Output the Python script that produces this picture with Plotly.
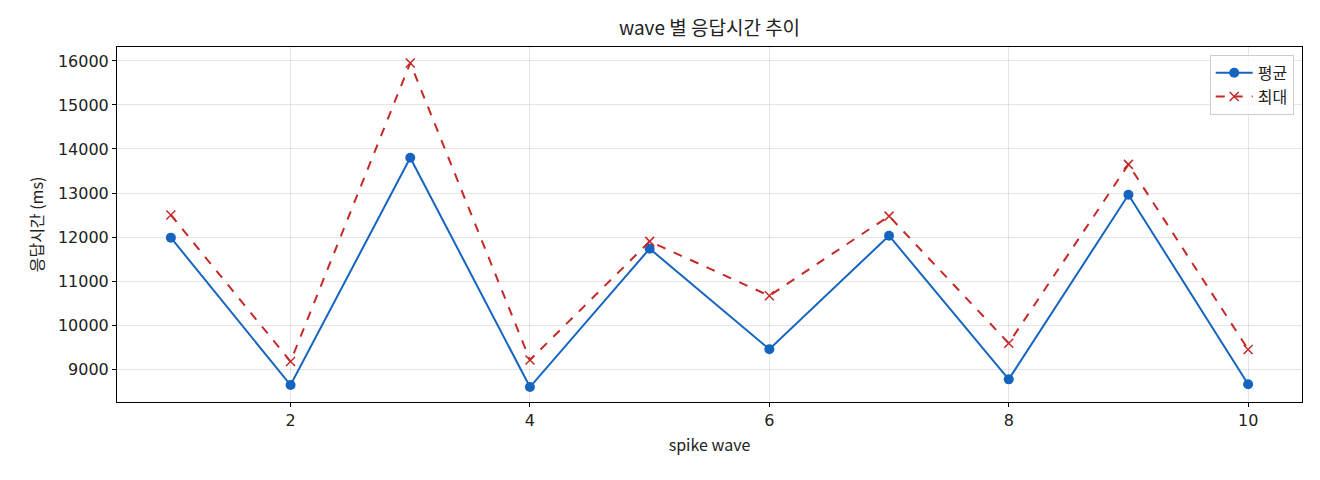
import plotly.graph_objects as go

waves = [1, 2, 3, 4, 5, 6, 7, 8, 9, 10]
avg_ms = [11985, 8635, 13800, 8590, 11735, 9450, 12030, 8765, 12960, 8655]
max_ms = [12500, 9170, 15955, 9205, 11900, 10665, 12475, 9585, 13650, 9445]

y_ticks = [9000, 10000, 11000, 12000, 13000, 14000, 15000, 16000]
x_ticks = [2, 4, 6, 8, 10]

kr_font = "Noto Sans CJK KR"
num_font = "DejaVu Sans, Noto Sans CJK KR"

fig = go.Figure()
fig.add_trace(go.Scatter(
    x=waves, y=avg_ms, mode="lines+markers", name="평균",
    line=dict(color="#1565C0", width=2),
    marker=dict(symbol="circle", size=10, color="#1565C0"),
))
fig.add_trace(go.Scatter(
    x=waves, y=max_ms, mode="lines+markers", name="최대",
    line=dict(color="#C62828", width=2, dash="dash"),
    marker=dict(symbol="x-thin", size=9, color="#C62828",
                line=dict(color="#C62828", width=1.5)),
))

axis_common = dict(
    showline=True, linecolor="black", linewidth=1, mirror=True,
    ticks="outside", ticklen=4, tickcolor="black",
    showgrid=True, gridcolor="rgba(0,0,0,0.1)", gridwidth=1,
    zeroline=False, tickformat="d",
    tickfont=dict(size=16, color="#222", family=num_font),
)

# the page adds an 8px body margin, so the margins are shifted by that
fig.update_layout(
    width=1320, height=480,
    margin=dict(l=109, r=26, t=39, b=86),
    paper_bgcolor="white", plot_bgcolor="white",
    font=dict(family=kr_font, color="#222"),
    title=dict(text="wave 별 응답시간 추이", xref="paper", x=0.5,
               xanchor="center", y=0.957, yanchor="middle",
               font=dict(size=19, color="#222", family=kr_font)),
    xaxis=dict(axis_common, range=[0.55, 10.45], tickvals=x_ticks,
               title=dict(text="spike wave", font=dict(size=16), standoff=10)),
    yaxis=dict(axis_common, range=[8250, 16318], tickvals=y_ticks,
               title=dict(text="응답시간 (ms)", font=dict(size=16), standoff=10)),
    legend=dict(x=0.993, y=0.978, xanchor="right", yanchor="top",
                bgcolor="rgba(255,255,255,0.8)", bordercolor="#ccc",
                borderwidth=1, itemwidth=37, font=dict(size=16)),
    showlegend=True,
)

fig.write_html("out.html")
